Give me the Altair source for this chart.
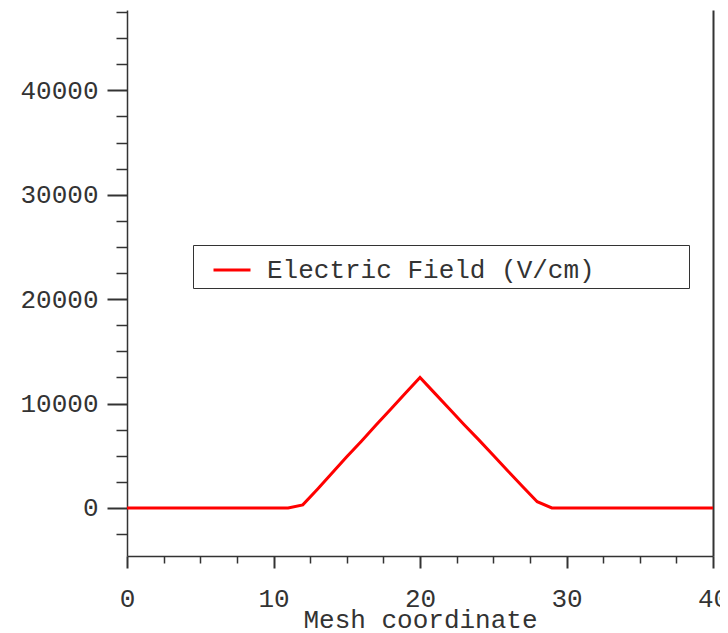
import altair as alt
import pandas as pd

mesh = list(range(0, 41))
field = [0, 0, 0, 0, 0, 0, 0, 0, 0, 0, 0, 0,
         300, 1800, 3350, 4900, 6400, 7950, 9450, 11000, 12500,
         11000, 9500, 8000, 6550, 5050, 3550, 2050, 600,
         0, 0, 0, 0, 0, 0, 0, 0, 0, 0, 0, 0]
series = ["Electric Field (V/cm)"] * len(mesh)

x_major = [0, 10, 20, 30, 40]
x_minor = [2.5, 5, 7.5, 12.5, 15, 17.5, 22.5, 25, 27.5, 32.5, 35, 37.5]
y_major = [0, 10000, 20000, 30000, 40000]
y_minor = [-2500, 2500, 5000, 7500, 12500, 15000, 17500, 22500, 25000, 27500,
           32500, 35000, 37500, 42500, 45000, 47500]

df = pd.DataFrame({"mesh": mesh, "field": field, "series": series})

FONT = "Liberation Mono"
INK = "#333333"

xs = alt.Scale(domain=[0, 40], nice=False, zero=False)
ys = alt.Scale(domain=[-4600, 47700], nice=False, zero=False)

main = alt.Chart(df).mark_line(strokeWidth=3, clip=True).encode(
    x=alt.X("mesh:Q", scale=xs, axis=alt.Axis(
        orient="bottom", values=x_major, tickSize=12, tickWidth=2,
        tickColor=INK, domainColor=INK, domainWidth=1.5,
        labelFont=FONT, labelFontSize=26, labelColor=INK, labelPadding=17,
        labelFlush=False, labelOverlap=False, grid=False, format="d",
        title="Mesh coordinate", titleFont=FONT, titleFontSize=26,
        titleFontWeight="normal", titleColor=INK,
        titleBaseline="alphabetic", titleY=71)),
    y=alt.Y("field:Q", scale=ys, axis=alt.Axis(
        orient="left", values=y_major, tickSize=20, tickWidth=2,
        tickColor=INK, domainColor=INK, domainWidth=1.5, format="d",
        labelFont=FONT, labelFontSize=26, labelColor=INK, labelPadding=9,
        labelOverlap=False, grid=False, title=None)),
    color=alt.Color("series:N", scale=alt.Scale(range=["#ff0000"]),
                    legend=alt.Legend(
                        title=None, orient="none", legendX=66, legendY=235,
                        strokeColor=INK, fillColor="white", padding=5,
                        symbolType="stroke", symbolStrokeWidth=3,
                        symbolSize=1369, symbolOffset=14, labelOffset=15,
                        labelFont=FONT, labelFontSize=26, labelColor=INK,
                        labelLimit=0,
                        labelExpr="datum.label + '\u00a0\u00a0\u00a0\u00a0\u00a0\u2009\u2009\u200b'")),
)

minor = alt.Chart(df).mark_line(opacity=0).encode(
    x=alt.X("mesh:Q", scale=xs, axis=alt.Axis(
        orient="bottom", values=x_minor, tickSize=7, tickWidth=1.5,
        tickColor=INK, domain=False, labels=False, grid=False, title=None)),
    y=alt.Y("field:Q", scale=ys, axis=alt.Axis(
        orient="left", values=y_minor, tickSize=11, tickWidth=1.5,
        tickColor=INK, domain=False, labels=False, grid=False, title=None)),
)

border = alt.Chart(df).mark_line(opacity=0).encode(
    x=alt.X("mesh:Q", scale=xs, axis=None),
    y=alt.Y("field:Q", scale=ys, axis=alt.Axis(
        orient="right", ticks=False, labels=False, grid=False, title=None,
        domainColor=INK, domainWidth=2)),
)

chart = alt.layer(main, minor, border).resolve_axis(
    x="independent", y="independent"
).properties(
    width=586, height=546,
    autosize=alt.AutoSizeParams(type="none"),
    padding={"left": 119, "top": 2, "right": 7, "bottom": 75},
    background="white",
).configure_view(stroke=None)

chart.save("out.html", embed_options={"renderer": "svg", "actions": False})
